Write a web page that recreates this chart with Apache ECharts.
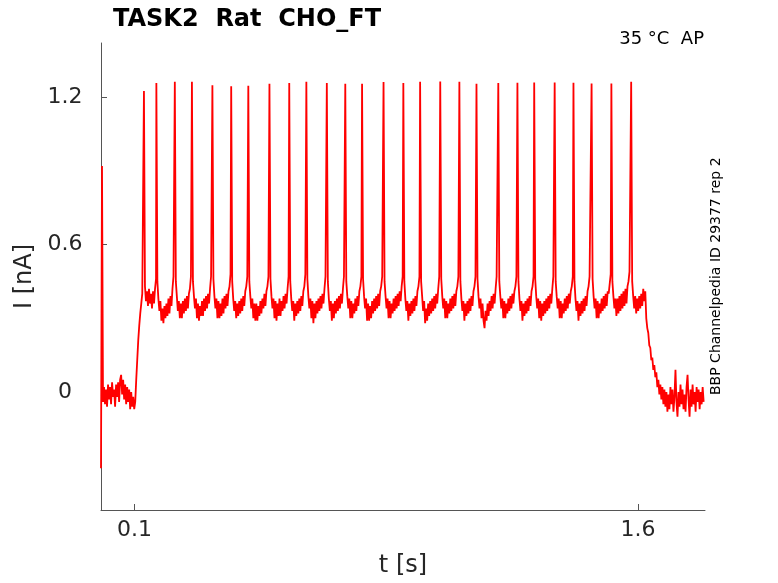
<!DOCTYPE html>
<html>
<head>
<meta charset="utf-8">
<title>TASK2 Rat CHO_FT</title>
<script src="https://cdn.jsdelivr.net/npm/echarts@6.0.0/dist/echarts.min.js"></script>
<style>
  html, body { margin: 0; padding: 0; background: #fff; }
  #main { width: 778px; height: 583px; }
</style>
</head>
<body>
<div id="main"></div>
<script>
// sample step of the trace [s]
var dt = 0.003;

// trace from t = 0 up to the first spike (transient, baseline, step onset)
var lead = [-0.31, 0.92, -0.04,
  0.02, -0.05, 0.01, -0.06, 0.03, -0.03, 0.02, -0.05, 0.04, -0.02, 0.01, -0.06, 0.03, -0.02, 0.04, -0.04,
  0.05, 0.07, -0.01, 0.05, -0.03, 0.03, -0.05, 0.02, -0.04, 0.01, -0.07, 0.00, -0.06, -0.02, -0.07,
  -0.04, 0.05, 0.13, 0.21, 0.27, 0.32, 0.36, 0.40];

// spike times [s] and peak currents [nA]
var spikeTimes = [0.128, 0.165, 0.220, 0.271, 0.332, 0.388, 0.439, 0.502, 0.561, 0.612, 0.673, 0.728, 0.778, 0.842,
  0.901, 0.951, 1.011, 1.068, 1.119, 1.184, 1.241, 1.291, 1.352, 1.408, 1.462, 1.521, 1.580];
var spikePeaks = [1.225, 1.257, 1.262, 1.262, 1.248, 1.244, 1.246, 1.254, 1.257, 1.262, 1.257, 1.254, 1.254, 1.261,
  1.257, 1.262, 1.263, 1.262, 1.254, 1.257, 1.258, 1.259, 1.259, 1.258, 1.255, 1.255, 1.262];

// samples between one spike and the next
var segments = [
  [0.43,0.37,0.41,0.35,0.42,0.36,0.40,0.34,0.41,0.36,0.42,0.46],
  [0.45,0.38,0.33,0.37,0.29,0.34,0.28,0.35,0.30,0.36,0.31,0.38,0.32,0.39,0.35,0.42,0.47],
  [0.45,0.39,0.33,0.37,0.30,0.36,0.30,0.37,0.32,0.38,0.33,0.39,0.34,0.40,0.42,0.47],
  [0.45,0.39,0.34,0.38,0.30,0.36,0.29,0.35,0.31,0.37,0.31,0.38,0.33,0.39,0.34,0.40,0.36,0.42,0.47],
  [0.46,0.39,0.34,0.38,0.30,0.37,0.30,0.36,0.31,0.38,0.32,0.39,0.34,0.40,0.35,0.41,0.43,0.48],
  [0.45,0.38,0.33,0.37,0.30,0.36,0.31,0.37,0.32,0.38,0.33,0.39,0.35,0.41,0.43,0.47],
  [0.45,0.39,0.34,0.38,0.30,0.36,0.29,0.36,0.29,0.35,0.31,0.37,0.32,0.38,0.34,0.40,0.35,0.41,0.43,0.47],
  [0.46,0.39,0.34,0.38,0.30,0.37,0.29,0.36,0.31,0.38,0.31,0.37,0.33,0.39,0.34,0.40,0.36,0.42,0.47],
  [0.45,0.38,0.33,0.37,0.29,0.36,0.31,0.37,0.32,0.38,0.33,0.39,0.35,0.41,0.43,0.48],
  [0.46,0.39,0.34,0.38,0.30,0.37,0.28,0.36,0.30,0.37,0.32,0.38,0.33,0.39,0.34,0.40,0.36,0.42,0.47],
  [0.45,0.38,0.33,0.37,0.29,0.36,0.30,0.37,0.32,0.38,0.33,0.39,0.34,0.40,0.36,0.42,0.47],
  [0.45,0.39,0.34,0.38,0.30,0.37,0.30,0.36,0.32,0.38,0.33,0.39,0.35,0.41,0.43,0.47],
  [0.46,0.39,0.34,0.38,0.29,0.36,0.29,0.35,0.30,0.37,0.32,0.38,0.33,0.39,0.34,0.40,0.35,0.41,0.43,0.47],
  [0.45,0.39,0.34,0.38,0.30,0.37,0.30,0.36,0.32,0.38,0.33,0.39,0.34,0.40,0.35,0.41,0.37,0.43,0.47],
  [0.45,0.38,0.33,0.37,0.29,0.36,0.31,0.37,0.32,0.38,0.33,0.39,0.35,0.41,0.43,0.47],
  [0.45,0.39,0.33,0.37,0.28,0.34,0.29,0.36,0.31,0.37,0.32,0.38,0.33,0.39,0.34,0.40,0.36,0.42,0.47],
  [0.46,0.39,0.34,0.38,0.30,0.37,0.30,0.36,0.32,0.38,0.33,0.39,0.34,0.40,0.35,0.41,0.43,0.47],
  [0.45,0.38,0.33,0.37,0.29,0.36,0.31,0.37,0.32,0.38,0.33,0.39,0.35,0.41,0.43,0.47],
  [0.46,0.39,0.34,0.38,0.30,0.36,0.29,0.26,0.33,0.29,0.36,0.31,0.37,0.33,0.39,0.34,0.40,0.36,0.42,0.47],
  [0.45,0.39,0.34,0.38,0.30,0.37,0.30,0.36,0.32,0.38,0.33,0.39,0.34,0.40,0.36,0.41,0.43,0.47],
  [0.45,0.38,0.33,0.37,0.29,0.36,0.31,0.37,0.32,0.38,0.33,0.39,0.35,0.41,0.43,0.47],
  [0.46,0.39,0.34,0.38,0.30,0.37,0.29,0.36,0.31,0.37,0.32,0.38,0.33,0.39,0.34,0.40,0.36,0.42,0.47],
  [0.45,0.39,0.34,0.38,0.30,0.37,0.30,0.36,0.32,0.38,0.33,0.39,0.34,0.40,0.36,0.41,0.43,0.47],
  [0.45,0.38,0.33,0.37,0.29,0.36,0.31,0.37,0.32,0.38,0.33,0.39,0.35,0.41,0.43,0.47],
  [0.46,0.39,0.34,0.38,0.30,0.37,0.30,0.36,0.32,0.38,0.33,0.39,0.34,0.40,0.35,0.41,0.40,0.44,0.48],
  [0.45,0.39,0.34,0.38,0.31,0.38,0.32,0.39,0.33,0.40,0.34,0.41,0.35,0.42,0.36,0.43,0.45,0.49]
];

// after the last spike: rest of the step, decay and baseline
var endPlateau = [0.45,0.39,0.34,0.39,0.32,0.38,0.33,0.39,0.34,0.40,0.35,0.42,0.37,0.41];
var decay = [0.30,0.26,0.24,0.19,0.18,0.13,0.14,0.09,0.11,0.06,0.08,0.02,0.05,-0.01,0.03,-0.03,0.02,-0.05,0.01,-0.06];
var tail = [0.00,-0.08,-0.01,-0.07,0.02,-0.05,0.01,-0.08,-0.02,0.09,-0.04,-0.10,0.00,-0.06,0.03,-0.05,0.01,-0.07,-0.01,
  -0.08,0.02,0.07,-0.03,-0.10,0.01,-0.06,0.03,-0.05,0.00,-0.08,0.02,-0.04,0.01,-0.07,0.00,-0.05,0.02,-0.04];
segments.push(endPlateau.concat(decay, tail));

// tick values
var xTicks = [0.1, 1.6];
var yTicks = [0, 0.6, 1.2];

var trace = [];
lead.forEach(function (v, j) { trace.push([j * dt, v]); });
spikeTimes.forEach(function (ts, k) {
    var next = k + 1 < spikeTimes.length ? spikeTimes[k + 1] : 1.8;
    trace.push([ts, spikePeaks[k]]);
    segments[k].forEach(function (v, j) {
        var t = ts + (j + 1) * dt;
        if (t < next) trace.push([t, v]);
    });
});

var myChart = echarts.init(document.getElementById('main'));
var font = 'DejaVu Sans';
var option = {
    animation: false,
    backgroundColor: '#ffffff',
    title: {
        text: 'TASK2  Rat  CHO_FT',
        left: 108,
        top: 3,
        textStyle: { fontFamily: font, fontSize: 24, fontWeight: 'bold', color: '#000' }
    },
    grid: { left: 101, right: 73, top: 43, bottom: 71 },
    xAxis: {
        type: 'value',
        min: 0,
        max: 1.8,
        name: 't [s]',
        nameLocation: 'middle',
        nameGap: 44,
        nameTextStyle: { fontFamily: font, fontSize: 24, color: '#262626' },
        axisLine: { onZero: false, lineStyle: { color: '#555', width: 1 } },
        axisTick: { inside: true, length: 6, customValues: xTicks, lineStyle: { color: '#555' } },
        axisLabel: { customValues: xTicks, margin: 9, fontFamily: font, fontSize: 22, color: '#262626' },
        splitLine: { show: false }
    },
    yAxis: {
        type: 'value',
        min: -0.48,
        max: 1.42,
        name: 'I [nA]',
        nameLocation: 'middle',
        nameGap: 52,
        nameTextStyle: { fontFamily: font, fontSize: 24, color: '#262626' },
        axisLine: { show: true, lineStyle: { color: '#555', width: 1 } },
        axisTick: { show: true, inside: true, length: 6, customValues: yTicks, lineStyle: { color: '#555' } },
        axisLabel: { customValues: yTicks, align: 'center', margin: 36, fontFamily: font, fontSize: 22, color: '#262626' },
        splitLine: { show: false }
    },
    graphic: [
        {
            type: 'text', right: 74, top: 30,
            style: { text: '35 °C  AP', fontFamily: font, fontSize: 18, fill: '#000' }
        },
        {
            type: 'text', x: 716, y: 395, rotation: Math.PI / 2,
            style: { text: 'BBP Channelpedia ID 29377 rep 2', fontFamily: font, fontSize: 14, fill: '#000',
                align: 'left', verticalAlign: 'middle' }
        }
    ],
    series: [{
        type: 'line',
        data: trace,
        showSymbol: false,
        sampling: false,
        lineStyle: { color: '#ff0000', width: 1.8 },
        itemStyle: { color: '#ff0000' }
    }]
};
myChart.setOption(option);
</script>
</body>
</html>
